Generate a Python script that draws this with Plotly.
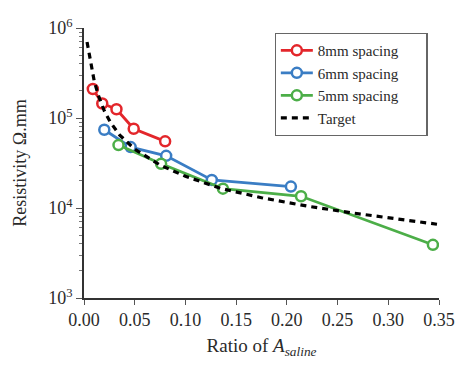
import plotly.graph_objects as go

# Data
red_x = [0.0087, 0.018, 0.032, 0.049, 0.080]
red_y = [2.1e5, 1.45e5, 1.25e5, 7.6e4, 5.5e4]

blue_x = [0.020, 0.046, 0.081, 0.126, 0.204]
blue_y = [7.4e4, 4.75e4, 3.8e4, 2.05e4, 1.73e4]

green_x = [0.034, 0.076, 0.137, 0.214, 0.344]
green_y = [5.0e4, 3.1e4, 1.64e4, 1.35e4, 3.9e3]

target_x = [0.003, 0.007, 0.010, 0.014, 0.020, 0.026, 0.035, 0.050, 0.075,
            0.100, 0.135, 0.175, 0.220, 0.265, 0.310, 0.348]
target_y = [7.0e5, 4.0e5, 2.6e5, 1.8e5, 1.2e5, 9.0e4, 6.5e4, 4.5e4, 3.0e4,
            2.25e4, 1.65e4, 1.3e4, 1.05e4, 8.8e3, 7.6e3, 6.6e3]

x_ticks = [0.00, 0.05, 0.10, 0.15, 0.20, 0.25, 0.30, 0.35]
y_ticks = [1e3, 1e4, 1e5, 1e6]
y_tick_text = ["10<sup>3</sup>", "10<sup>4</sup>", "10<sup>5</sup>", "10<sup>6</sup>"]

FONT = "Liberation Serif, Times New Roman, serif"
TXT = "#2a2a2a"
PAD = "\u00a0" * 6

fig = go.Figure()

def series(x, y, name, color):
    fig.add_trace(go.Scatter(
        x=x, y=y, name=name + PAD, mode="lines+markers",
        line=dict(color=color, width=2.8),
        marker=dict(symbol="circle", size=10, color="white",
                    line=dict(color=color, width=2.5)),
    ))

series(red_x, red_y, "8mm spacing", "#e3262b")
series(blue_x, blue_y, "6mm spacing", "#3a7dc4")
series(green_x, green_y, "5mm spacing", "#4cae48")

fig.add_trace(go.Scatter(
    x=target_x, y=target_y, name="Target", mode="lines",
    line=dict(color="black", width=3.2, dash="6px,5px"),
))

fig.update_layout(
    width=467, height=365,
    margin=dict(l=84, r=20, t=28, b=58),
    paper_bgcolor="white", plot_bgcolor="white",
    font=dict(family=FONT, size=18, color=TXT),
    showlegend=True,
    legend=dict(
        x=0.537, y=0.982, xanchor="left", yanchor="top",
        bordercolor="#666", borderwidth=1.2, bgcolor="white",
        font=dict(family=FONT, size=15, color=TXT),
        itemwidth=32, tracegroupgap=0,
    ),
)

fig.update_xaxes(
    range=[0, 0.35], tickvals=x_ticks, tickformat=".2f",
    showgrid=False, zeroline=False, showline=True, linecolor="#333", linewidth=1.5,
    ticks="outside", ticklen=5, tickcolor="#555",
    tickfont=dict(family=FONT, size=18, color=TXT),
    title=dict(text="Ratio of <i>A</i><sub><i>saline</i></sub>",
               font=dict(family=FONT, size=19, color=TXT), standoff=9),
)

fig.update_yaxes(
    type="log", range=[3, 6], tickvals=y_ticks, ticktext=y_tick_text,
    showgrid=False, zeroline=False, showline=True, linecolor="#333", linewidth=1.5,
    ticks="outside", ticklen=6, tickcolor="#555",
    tickfont=dict(family=FONT, size=18, color=TXT),
    minor=dict(ticks="outside", ticklen=3, tickcolor="#777", dtick="D1", showgrid=False),
    title=dict(text="Resistivity Ω.mm", font=dict(family=FONT, size=18, color=TXT), standoff=17),
)

fig.write_html(
    "out.html",
    config={"displayModeBar": False},
    post_script="document.body.style.margin='0';document.body.style.overflow='hidden';"
                "document.documentElement.style.overflow='hidden';",
)
